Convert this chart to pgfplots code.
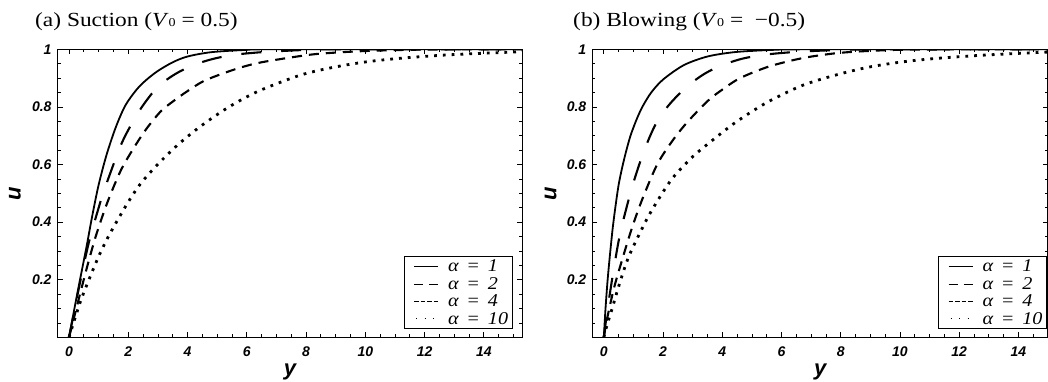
\documentclass[border=0pt]{standalone}
\usepackage{fontspec}
\setmainfont{Liberation Serif}
\setsansfont{Liberation Sans}
\usepackage{pgfplots}
\pgfplotsset{compat=1.18}

\newcommand{\legtxt}[1]{\scalebox{1.12}[1]{α\hspace{7pt}=\hspace{7pt}#1}}

\pgfplotsset{
  mystyle/.style={
    scale only axis, height=288pt,
    ymin=0, ymax=1,
    xtick={0,2,...,14}, ytick={0.2,0.4,0.6,0.8,1},
    minor xtick={0.5,1,...,15},
    minor ytick={0.05,0.1,...,0.95},
    tick align=inside,
    major tick length=5pt, minor tick length=3pt,
    every tick/.style={black, line width=0.8pt},
    axis line style={line width=1.5pt},
    /pgf/number format/assume math mode=true,
    ticklabel style={font=\fontsize{14}{14}\selectfont\sffamily\bfseries\itshape},
    xticklabel shift=6pt,
    yticklabel shift=2.5pt,
    label style={font=\fontsize{22}{22}\selectfont\sffamily\bfseries\itshape, inner sep=0pt},
    xlabel style={at={(axis description cs:0.5,-0.093)}, anchor=north},
    ylabel style={at={(axis description cs:-0.0914,0.5)}, anchor=center},
    xlabel={y}, ylabel={u},
    legend style={anchor=south east, draw=black, line width=0.9pt,
      font=\fontsize{18}{18}\selectfont\itshape, row sep=0pt,
      inner xsep=2pt, inner ysep=1pt},
    legend cell align=left,
  },
  s1/.style={black, line width=1.8pt, smooth,
    legend image code/.code={\path[draw=none] (0pt,0pt) -- (40pt,0pt);
      \draw[black, solid, line width=0.7pt] (8pt,0pt) -- (32pt,0pt);}},
  s2/.style={black, line width=2.1pt, smooth, dash pattern=on 20pt off 20pt,
    legend image code/.code={\path[draw=none] (0pt,0pt) -- (40pt,0pt);
      \draw[black, line width=0.7pt, dash pattern=on 9pt off 6pt] (8pt,0pt) -- (32pt,0pt);}},
  s4/.style={black, line width=2.1pt, smooth, dash pattern=on 10pt off 7pt,
    legend image code/.code={\path[draw=none] (0pt,0pt) -- (40pt,0pt);
      \draw[black, line width=0.7pt, dash pattern=on 4.5pt off 2pt] (8pt,0pt) -- (32pt,0pt);}},
  s10/.style={black, line width=2.8pt, smooth, dash pattern=on 2.8pt off 6pt,
    legend image code/.code={\path[draw=none] (0pt,0pt) -- (40pt,0pt);
      \draw[black, line width=0.8pt, dash pattern=on 1pt off 7.5pt] (10pt,0pt) -- (32pt,0pt);}},
}

\begin{document}
\begin{tikzpicture}[x=1pt,y=1pt]
\path[use as bounding box] (0,0) rectangle (1048,381);

\node[anchor=base west, inner sep=0pt, font=\fontsize{20}{20}\selectfont] at (35,354)
  {\scalebox{1.17}[1]{(a) Suction (\textit{V}{\fontsize{12}{12}\selectfont 0} = 0.5)}};
\node[anchor=base west, inner sep=0pt, font=\fontsize{20}{20}\selectfont] at (573,354)
  {\scalebox{1.17}[1]{(b) Blowing (\textit{V}{\fontsize{12}{12}\selectfont 0} = \ −0.5)}};

\begin{axis}[mystyle, at={(57.5pt,43.7pt)}, anchor=south west, width=464.8pt,
  xmin=-0.39, xmax=15.3,
  legend style={at={(axis description cs:0.979,0.029)}}]
\addplot[s1] coordinates {(0,0) (0.2,0.11) (0.37,0.2) (0.6,0.32) (0.78,0.42) (1.0,0.53) (1.27,0.635) (1.58,0.73) (1.9,0.805) (2.28,0.86) (2.6,0.893) (3.0,0.925) (3.5,0.955) (4.0,0.975) (4.8,0.99) (6,0.998) (7,1) (15.3,1)};
\addlegendentry{\legtxt{1}}
\addplot[s2] coordinates {(0,0) (0.35,0.18) (0.67,0.33) (1.0,0.45) (1.2,0.515) (1.7,0.655) (2.0,0.72) (2.46,0.8) (3.0,0.87) (3.6,0.915) (4.2,0.945) (4.8,0.965) (5.5,0.98) (6.5,0.99) (8,0.998) (9,1) (15.3,1)};
\addlegendentry{\legtxt{2}}
\addplot[s4] coordinates {(0,0) (0.37,0.15) (0.65,0.26) (0.93,0.36) (1.3,0.47) (1.75,0.58) (2.2,0.66) (2.62,0.725) (3.1,0.785) (3.52,0.82) (4.0,0.855) (4.55,0.89) (5.3,0.92) (5.9,0.94) (6.5,0.955) (7.7,0.975) (8.5,0.985) (10,0.994) (12,0.999) (15.3,1)};
\addlegendentry{\legtxt{4}}
\addplot[s10] coordinates {(0,0) (0.37,0.12) (0.71,0.21) (1.04,0.29) (1.38,0.36) (1.94,0.46) (2.39,0.53) (2.96,0.597) (3.69,0.67) (4.47,0.735) (5.4,0.8) (6.4,0.855) (7.8,0.91) (8.9,0.937) (10,0.956) (11.2,0.969) (12.85,0.981) (14.87,0.99) (15.3,0.992)};
\addlegendentry{\legtxt{10}}
\end{axis}

\begin{axis}[mystyle, at={(592.3pt,43.7pt)}, anchor=south west, width=455.7pt,
  xmin=-0.39, xmax=15.0,
  legend style={at={(axis description cs:0.9978,0.029)}}]
\addplot[s1] coordinates {(0,0) (0.05,0.09) (0.12,0.19) (0.2,0.28) (0.3,0.38) (0.4,0.46) (0.5,0.53) (0.62,0.59) (0.75,0.645) (0.9,0.7) (1.1,0.755) (1.3,0.8) (1.6,0.85) (2.0,0.895) (2.7,0.945) (3.5,0.975) (4.4,0.99) (5.5,0.997) (7,1) (15,1)};
\addlegendentry{\legtxt{1}}
\addplot[s2] coordinates {(0,0) (0.1,0.08) (0.3,0.215) (0.55,0.36) (0.95,0.52) (1.35,0.645) (1.75,0.74) (2.2,0.807) (2.8,0.87) (3.4,0.915) (4.0,0.945) (4.7,0.968) (5.5,0.982) (6.5,0.991) (8,0.998) (9.5,1) (15,1)};
\addlegendentry{\legtxt{2}}
\addplot[s4] coordinates {(0,0) (0.1,0.06) (0.34,0.17) (0.62,0.27) (0.95,0.38) (1.3,0.48) (1.8,0.6) (2.3,0.68) (2.8,0.745) (3.5,0.82) (4.0,0.86) (4.6,0.9) (5.57,0.94) (6.69,0.969) (7.81,0.986) (8.9,0.994) (10.5,0.999) (15,1)};
\addlegendentry{\legtxt{4}}
\addplot[s10] coordinates {(0,0) (0.1,0.04) (0.28,0.1) (0.51,0.18) (0.84,0.28) (1.35,0.39) (1.7,0.455) (2.3,0.55) (3.0,0.627) (3.8,0.695) (4.5,0.75) (5.5,0.815) (6.69,0.874) (7.81,0.91) (8.94,0.938) (10.06,0.956) (11.19,0.968) (12.87,0.98) (14.9,0.99) (15,0.99)};
\addlegendentry{\legtxt{10}}
\end{axis}
\end{tikzpicture}
\end{document}
